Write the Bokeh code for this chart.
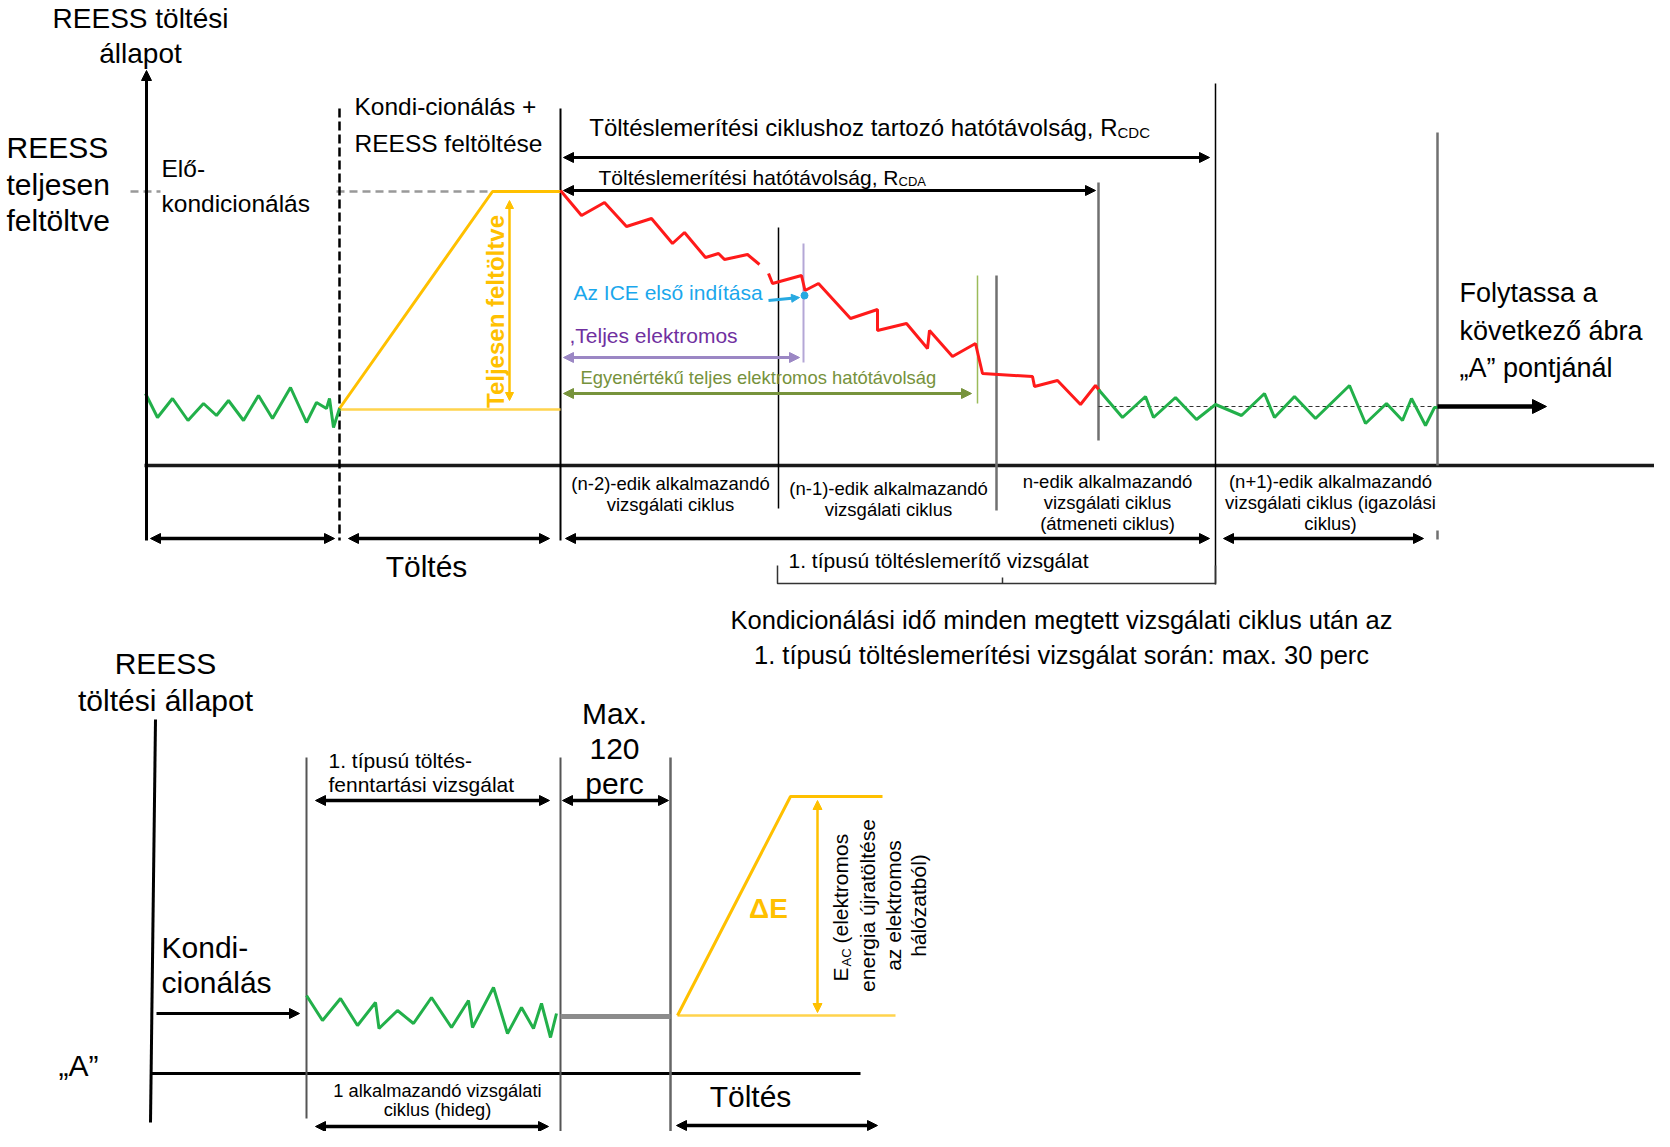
import math
from bokeh.plotting import figure
from bokeh.models import Range1d, Arrow, NormalHead
from bokeh.core.properties import value
from bokeh.embed import file_html
from bokeh.resources import INLINE

FONT = "Liberation Sans"

# ---------------- data: state-of-charge traces (diagram units) ----------------
green_tl_x = [145, 157, 172, 187.5, 203, 216, 228, 243, 258, 272, 290, 306, 316, 326, 329, 333, 339]
green_tl_y = [393, 417, 398, 420, 403, 415, 400, 420, 395, 418, 387, 422, 402, 408, 398, 427, 408]

red_a_x = [560, 581, 604, 626, 651, 672, 684, 705, 718, 724, 747, 759]
red_a_y = [190, 215, 202, 226, 218, 243, 232, 257, 253, 259, 254, 264]
red_b_x = [768, 772, 801, 804.5, 818, 850, 877, 877, 906, 927, 929, 952, 975, 982, 1032, 1034, 1057, 1080, 1095, 1099]
red_b_y = [273, 283, 275, 290, 283, 318, 309, 330, 323, 348, 330, 356, 343, 373, 376, 386, 380, 404, 385, 390]

green_tr_x = [1098, 1122, 1145, 1153, 1175, 1196, 1215, 1241, 1264, 1274, 1294, 1315, 1349, 1365, 1386, 1402, 1411, 1425, 1434, 1437]
green_tr_y = [389, 417, 396, 417, 397, 419, 404, 415, 393, 417, 396, 418, 385, 423, 403, 420, 398, 425, 407, 407]

green_b_x = [306, 322, 340, 357, 375, 378.5, 397, 413, 431, 451, 468, 472, 493, 507, 521, 533, 541, 550, 556]
green_b_y = [995, 1020, 998, 1025, 1002, 1028, 1010, 1023, 997, 1027, 1000, 1027, 987, 1033, 1007, 1028, 1003, 1037, 1013]

charge_top_x = [339, 492, 560]
charge_top_y = [408, 191, 191]
charge_bot_x = [677, 790, 882]
charge_bot_y = [1015, 796, 796]

cycle_labels = [
    ["(n-2)-edik alkalmazandó", "vizsgálati ciklus"],
    ["(n-1)-edik alkalmazandó", "vizsgálati ciklus"],
    ["n-edik alkalmazandó", "vizsgálati ciklus", "(átmeneti ciklus)"],
    ["(n+1)-edik alkalmazandó", "vizsgálati ciklus (igazolási", "ciklus)"],
]

GREEN = "#22B04A"
RED = "#FF1A1A"
ORANGE = "#FFC000"
ORANGE_L = "#FFD34D"
GRAY = "#707070"

p = figure(width=1654, height=1131, x_range=Range1d(0, 1654), y_range=Range1d(1131, 0),
           output_backend="svg", toolbar_location=None, min_border=0,
           x_axis_type=None, y_axis_type=None)
p.outline_line_color = None
p.background_fill_color = "white"
p.border_fill_color = "white"
p.grid.grid_line_color = None


def txt(x, y, s, size, color="black", align="left", bold=False, angle=0.0):
    p.text(x=[x], y=[y], text=[s], text_font=value(FONT), text_font_size=f"{size}px",
           text_color=color, text_align=align, text_baseline="middle",
           text_font_style="bold" if bold else "normal", angle=angle)


def ln(xs, ys, color="black", width=2.0, dash="solid", alpha=1.0):
    p.line(x=xs, y=ys, line_color=color, line_width=width, line_dash=dash, line_alpha=alpha)


def arrow(x0, y0, x1, y1, color="black", width=3.0, both=True, size=10):
    end = NormalHead(size=size, fill_color=color, line_color=color, line_width=1)
    start = NormalHead(size=size, fill_color=color, line_color=color, line_width=1) if both else None
    p.add_layout(Arrow(start=start, end=end, x_start=x0, y_start=y0, x_end=x1, y_end=y1,
                       line_color=color, line_width=width))


# ================= TOP DIAGRAM =================
arrow(146, 540, 146, 70, width=3, both=False, size=10)
ln([144, 1662], [465, 465], "#1a1a1a", 3.5)

ln([130, 160], [191, 191], "#999999", 2.5, "8 5")
ln([336, 492], [191, 191], "#999999", 2.5, "8 5")

ln([339, 339], [108, 540], "black", 2.5, "9 4")
ln([560, 560], [108, 540], "black", 2)
ln([1215, 1215], [83, 584], "black", 1.5)
ln([1437, 1437], [132, 465], GRAY, 2.5)
ln([1437, 1437], [530, 539], GRAY, 2.5)
ln([1098, 1098], [182, 440], GRAY, 2.5)
ln([996, 996], [275, 510], GRAY, 2.5)
ln([977, 977], [275, 403], "#9BBB59", 1.5)
ln([778, 778], [227, 508], "black", 1.5)
ln([803, 803], [243, 362], "#B4A7D6", 2)

ln([777, 777, 1215, 1215], [565, 583, 583, 565], "#333333", 1.5)
ln([1002, 1002], [577, 583], "#333333", 1.5)

ln([339, 560], [409, 409], ORANGE_L, 2.5)
ln(charge_top_x, charge_top_y, ORANGE, 3)
ln(green_tl_x, green_tl_y, GREEN, 3)
ln(red_a_x, red_a_y, RED, 3)
ln(red_b_x, red_b_y, RED, 3)
ln([1098, 1437], [406, 406], "#333333", 1, "4 3")
ln(green_tr_x, green_tr_y, GREEN, 3)

arrow(150, 538, 334, 538, width=3.5)
arrow(348, 538, 549, 538, width=3.5)
arrow(565, 538, 1209, 538, width=3.5)
arrow(1223, 538, 1423, 538, width=3.5)
arrow(563, 157, 1209, 157, width=3)
arrow(563, 190, 1095, 190, width=3)
arrow(563, 357, 799, 357, "#9B87C4", 3)
arrow(563, 393, 971, 393, "#77933C", 3)
arrow(768, 300, 799, 297, "#27A9E1", 3, both=False, size=8)
p.scatter(x=[804], y=[295], size=7, fill_color="#27A9E1", line_color="#27A9E1")
arrow(509, 400, 509, 200, ORANGE, 2.5, size=8)
arrow(1437, 406, 1546, 406, "black", 4.5, both=False, size=14)

txt(140, 18, "REESS töltési", 28, align="center")
txt(140, 53, "állapot", 28, align="center")
txt(6, 147, "REESS", 30)
txt(6, 184, "teljesen", 30)
txt(6, 220, "feltöltve", 30)
txt(161, 168, "Elő-", 24.5)
txt(161, 203, "kondicionálás", 24.5)
txt(354, 106, "Kondi-cionálás +", 24.5)
txt(354, 143, "REESS feltöltése", 24.5)
txt(495, 311, "Teljesen feltöltve", 24, ORANGE, "center", True, math.pi / 2)

txt(1117, 127, "Töltéslemerítési ciklushoz tartozó hatótávolság, R", 24, align="right")
txt(1117, 132, "CDC", 15)
txt(898, 177, "Töltéslemerítési hatótávolság, R", 21, align="right")
txt(898, 181, "CDA", 13)
txt(573, 292, "Az ICE első indítása", 21, "#1AA7EC")
txt(569, 335, ",Teljes elektromos", 21, "#7030A0")
txt(580, 377, "Egyenértékű teljes elektromos hatótávolság", 18.4, "#76923C")

txt(1459, 292, "Folytassa a", 27)
txt(1459, 330, "következő ábra", 27)
txt(1459, 367, "„A” pontjánál", 27)

cycle_cx = [670, 888, 1107, 1330]
cycle_y0 = [483, 488, 481, 481]
for cx, y0, lines in zip(cycle_cx, cycle_y0, cycle_labels):
    for i, s in enumerate(lines):
        txt(cx, y0 + 21 * i, s, 18.5, align="center")

txt(426, 566, "Töltés", 30, align="center")
txt(788, 560, "1. típusú töltéslemerítő vizsgálat", 21)
txt(1061, 619, "Kondicionálási idő minden megtett vizsgálati ciklus után az", 25.5, align="center")
txt(1061, 654, "1. típusú töltéslemerítési vizsgálat során: max. 30 perc", 25.5, align="center")

# ================= BOTTOM DIAGRAM =================
ln([155, 150], [719, 1122], "black", 3)
ln([150, 860], [1073, 1073], "black", 3)
ln([306, 306], [757, 1118], "#555555", 2)
ln([560, 560], [757, 1131], "#555555", 2)
ln([670, 670], [757, 1131], "#666666", 2.5)
ln([560, 670], [1016, 1016], "#8C8C8C", 5)
ln(green_b_x, green_b_y, GREEN, 3)
ln([677, 895], [1015, 1015], ORANGE_L, 2.5)
ln(charge_bot_x, charge_bot_y, ORANGE, 3)
arrow(817, 1012, 817, 800, ORANGE, 2.5, size=9)

arrow(315, 800, 549, 800, width=3.5)
arrow(562, 800, 668, 800, width=3.5)
arrow(156, 1013, 299, 1013, width=3, both=False)
arrow(315, 1126, 548, 1126, width=3.5)
arrow(676, 1125, 877, 1125, width=3.5)

txt(165, 663, "REESS", 30, align="center")
txt(165, 700, "töltési állapot", 30, align="center")
txt(614, 713, "Max.", 30, align="center")
txt(614, 748, "120", 30, align="center")
txt(614, 783, "perc", 30, align="center")
txt(328, 760, "1. típusú töltés-", 21)
txt(328, 784, "fenntartási vizsgálat", 21)
txt(161, 947, "Kondi-", 30)
txt(161, 982, "cionálás", 30)
txt(78, 1065, "„A”", 30, align="center")
txt(437, 1090, "1 alkalmazandó vizsgálati", 18.3, align="center")
txt(437, 1109, "ciklus (hideg)", 18.3, align="center")
txt(750, 1096, "Töltés", 30, align="center")
txt(768, 908, "ΔE", 28, ORANGE, "center", True)

txt(840, 981, "E", 21, angle=math.pi / 2)
txt(846, 966, "AC", 13, angle=math.pi / 2)
txt(840, 943, "(elektromos", 21, angle=math.pi / 2)
txt(867, 905, "energia újratöltése", 21, align="center", angle=math.pi / 2)
txt(893, 905, "az elektromos", 21, align="center", angle=math.pi / 2)
txt(918, 905, "hálózatból)", 21, align="center", angle=math.pi / 2)

open("out.html", "w").write(file_html(p, INLINE))
